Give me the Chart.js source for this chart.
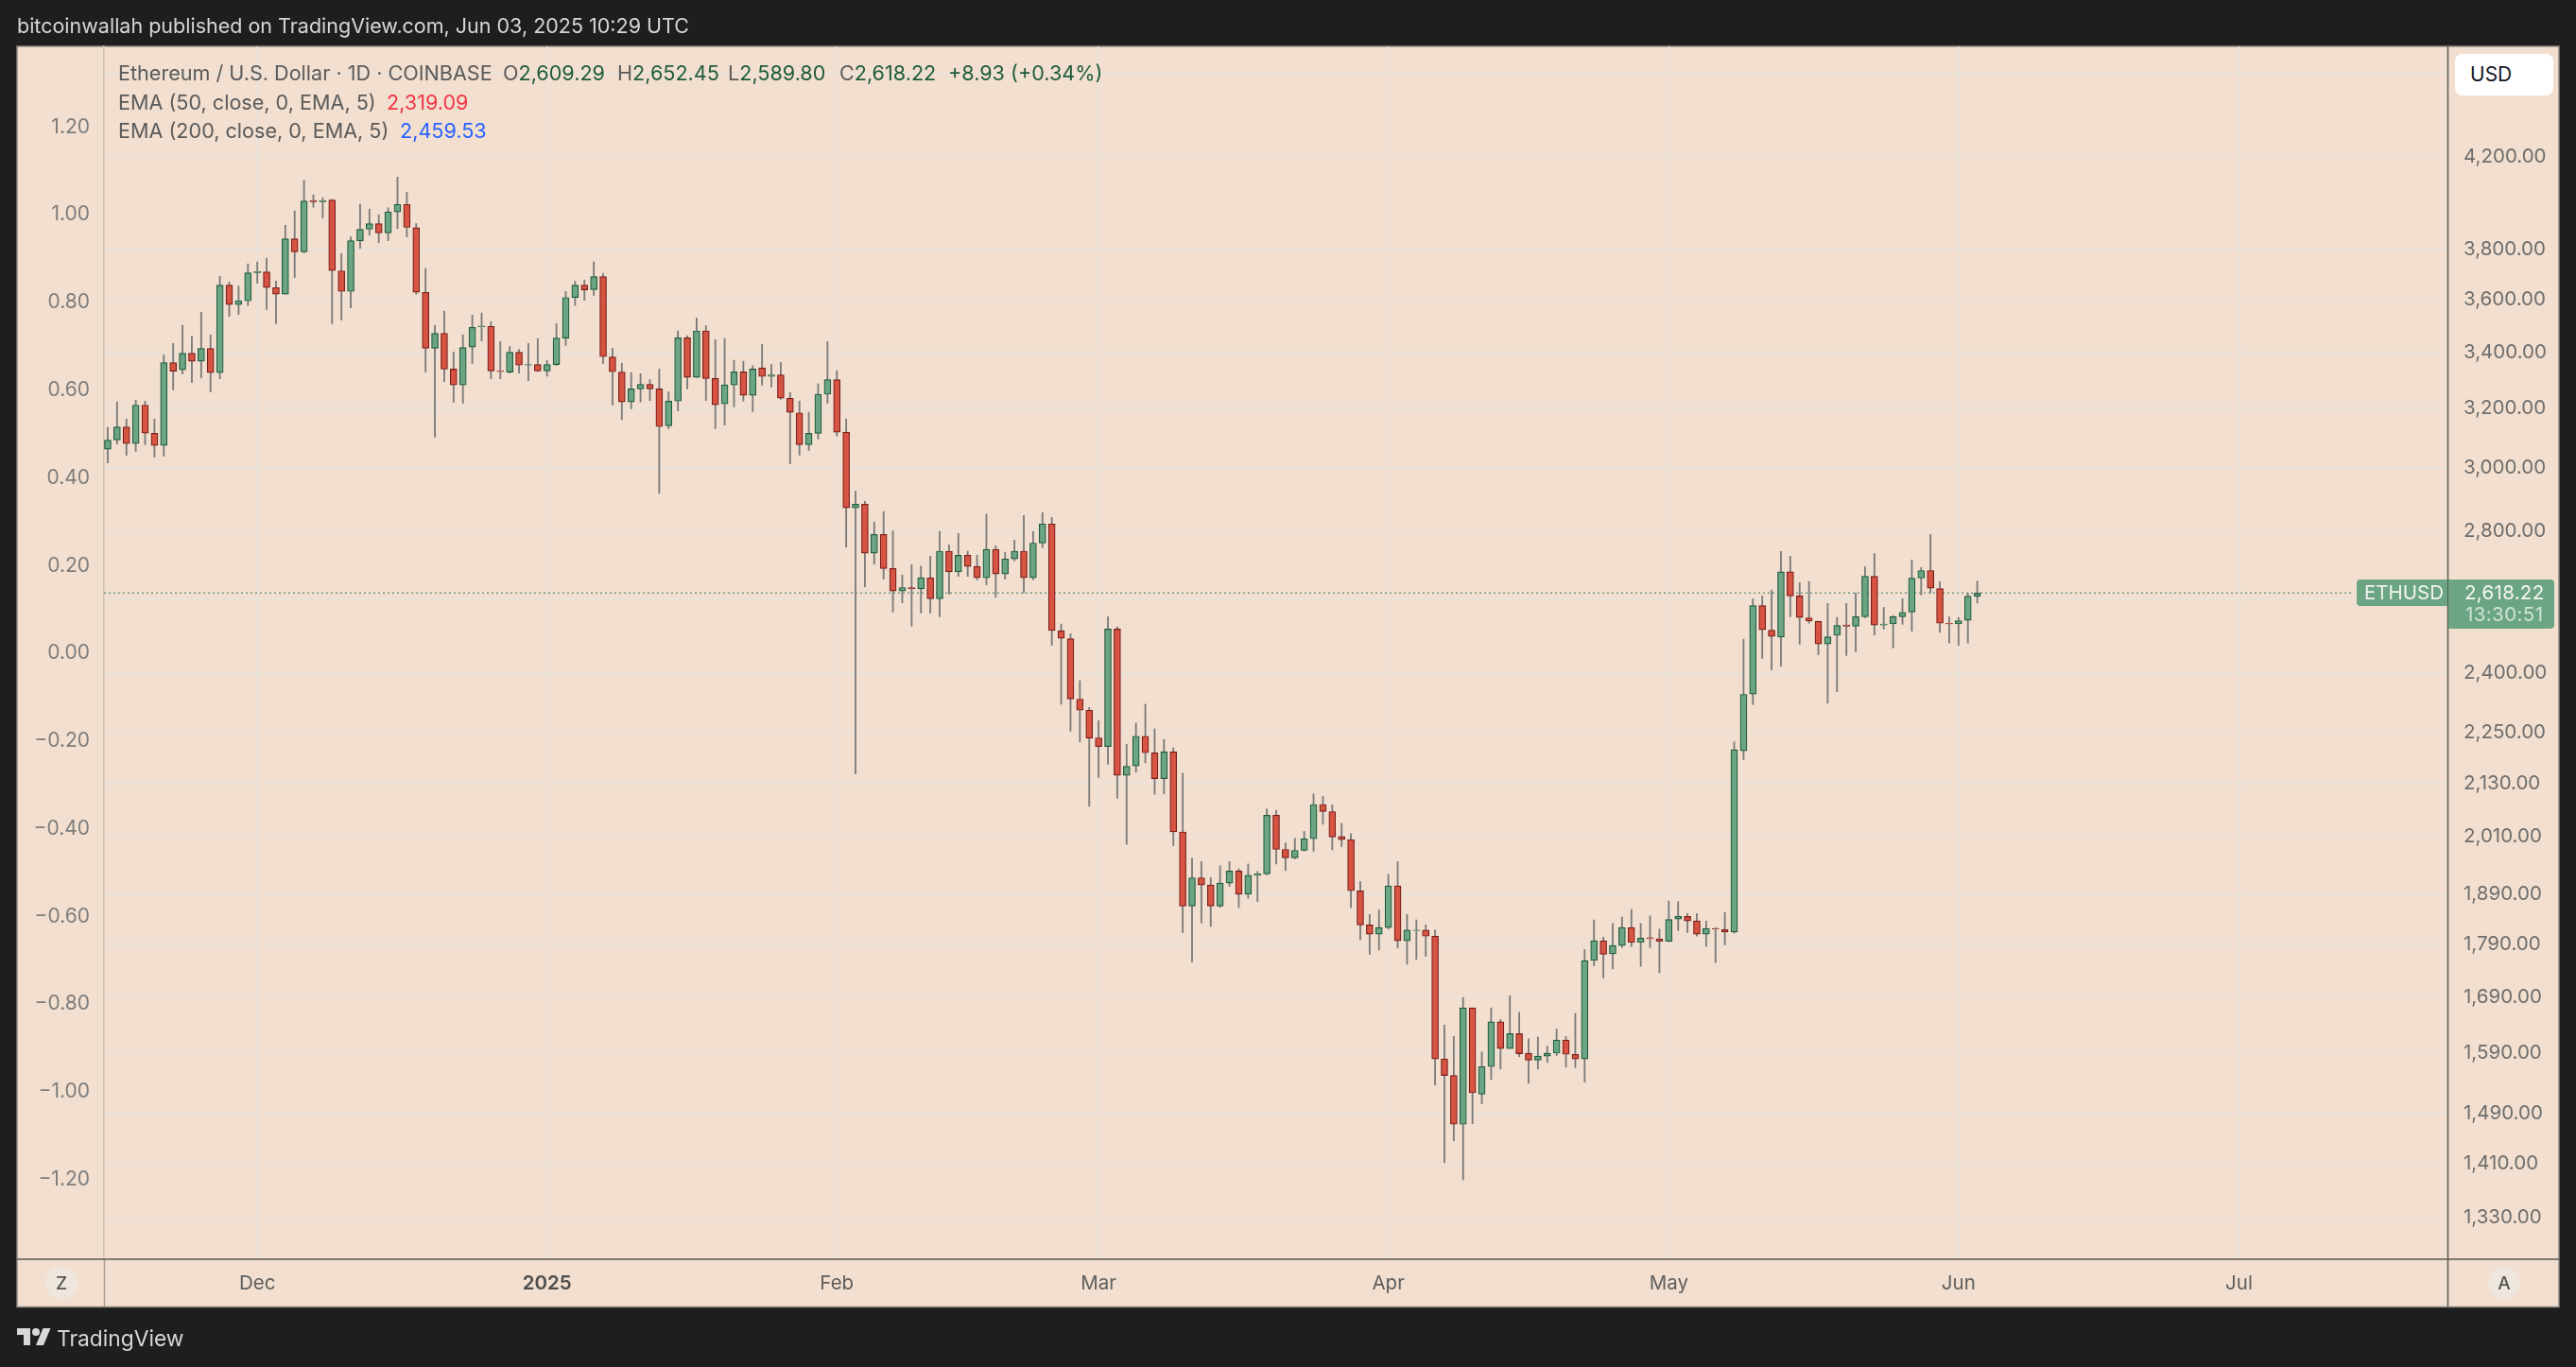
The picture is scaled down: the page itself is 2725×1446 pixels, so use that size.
<!DOCTYPE html>
<html>
<head>
<meta charset="utf-8">
<style>
html,body{margin:0;padding:0;background:#1e1e1e;width:2725px;height:1446px;overflow:hidden;font-family:Inter,sans-serif}
canvas{position:absolute;left:0;top:0}
.t{position:absolute;white-space:nowrap;transform:translateY(-50%);line-height:1;font-size:21.6px}
.lg{color:#5a5a5a}.gv{color:#1f5c3a}
.c{position:absolute;border-radius:50%;background:#efe6de;color:#555;font-size:19px;font-weight:500;display:flex;align-items:center;justify-content:center;width:34px;height:34px}
</style>
</head>
<body>
<canvas id="c" width="2725" height="1446"></canvas>
<div class="t" style="left:18px;top:28px;color:#d6d6d6;font-size:21.5px">bitcoinwallah published on TradingView.com, Jun 03, 2025 10:29 UTC</div>
<div class="t lg" style="left:125px;top:78px">Ethereum / U.S. Dollar · 1D · COINBASE</div>
<div class="t lg" style="left:532px;top:78px">O<span class="gv">2,609.29</span></div>
<div class="t lg" style="left:653px;top:78px">H<span class="gv">2,652.45</span></div>
<div class="t lg" style="left:770px;top:78px">L<span class="gv">2,589.80</span></div>
<div class="t lg" style="left:888px;top:78px">C<span class="gv">2,618.22</span></div>
<div class="t gv" style="left:1003px;top:78px">+8.93 (+0.34%)</div>
<div class="t lg" style="left:125px;top:109px">EMA (50, close, 0, EMA, 5)</div>
<div class="t" style="left:409px;top:109px;color:#f23645">2,319.09</div>
<div class="t lg" style="left:125px;top:139px">EMA (200, close, 0, EMA, 5)</div>
<div class="t" style="left:423px;top:139px;color:#2962ff">2,459.53</div>
<div style="position:absolute;left:2597px;top:57px;width:104px;height:44px;background:#fff;border-radius:8px"></div>
<div class="t" style="left:2613px;top:78px;color:#131722;font-size:21px">USD</div>
<div style="position:absolute;left:2493px;top:613px;width:96px;height:28px;background:#6ba583;border-radius:4px 0 0 4px"></div>
<div style="position:absolute;left:2590px;top:613px;width:112px;height:52px;background:#6ba583;border-radius:0 4px 4px 0"></div>
<div class="t" style="left:2501px;top:627px;color:#f4f4f0;font-size:20.5px">ETHUSD</div>
<div class="t" style="left:2607px;top:627px;color:#f6f6f2;font-size:20.5px;letter-spacing:.3px">2,618.22</div>
<div class="t" style="left:2608px;top:650px;color:#cfe3d6;font-size:20.5px;letter-spacing:.4px">13:30:51</div>
<div class="c" style="left:48px;top:1340px">Z</div>
<div class="c" style="left:2632px;top:1340px">A</div>
<svg style="position:absolute;left:18px;top:1401px" width="36" height="28" viewBox="0 0 36 28"><path fill="#d9d9d9" d="M14 22H7V11H0V4h14v18zM28 22h-8l7.5-18h8L28 22z"/><circle fill="#d9d9d9" cx="20" cy="8" r="4"/></svg>
<div class="t" style="left:60px;top:1416px;color:#d6d6d6;font-size:22.8px">TradingView</div>
<script src="https://cdn.jsdelivr.net/npm/chart.js@4"></script>
<script>
const startDate = "2024-11-15";
const opens = [3060,3091,3135,3079,3210,3113,3073,3361,3335,3396,3366,3413,3325,3656,3580,3594,3706,3709,3646,3620,3844,3790,4007,4002,4009,3713,3631,3836,3884,3908,3869,3958,3990,3891,3627,3414,3470,3338,3281,3418,3494,3496,3331,3327,3399,3352,3354,3331,3354,3452,3607,3656,3638,3690,3382,3327,3221,3267,3283,3267,3139,3224,3453,3308,3479,3304,3214,3281,3328,3244,3342,3311,3317,3234,3183,3075,3113,3248,3300,3117,2872,2883,2734,2790,2689,2624,2634,2630,2662,2602,2740,2679,2728,2695,2662,2745,2673,2717,2740,2662,2764,2822,2513,2492,2334,2306,2238,2217,2518,2149,2171,2242,2202,2141,2204,2021,1865,1923,1908,1865,1912,1937,1889,1928,1931,2058,1983,1965,1981,2006,2082,2066,2011,2004,1896,1827,1809,1822,1906,1796,1816,1817,1805,1580,1552,1472,1670,1521,1567,1645,1598,1624,1590,1578,1585,1590,1613,1588,1580,1758,1796,1771,1787,1822,1793,1802,1800,1795,1839,1844,1835,1809,1820,1818,1813,2207,2347,2583,2515,2496,2679,2610,2549,2539,2478,2501,2529,2526,2552,2666,2529,2532,2552,2565,2661,2683,2631,2534,2532,2542,2609.29];
const highs = [3133,3221,3162,3227,3224,3162,3390,3432,3500,3458,3550,3464,3691,3668,3652,3741,3749,3764,3672,3901,3962,4096,4032,4019,4012,3783,3852,3991,3970,3946,3976,4110,4043,3908,3722,3500,3554,3400,3464,3539,3547,3514,3439,3421,3410,3432,3450,3369,3507,3631,3672,3676,3749,3703,3414,3359,3325,3321,3300,3338,3257,3479,3461,3528,3499,3446,3450,3370,3366,3350,3428,3354,3362,3254,3224,3185,3285,3439,3332,3162,2924,2892,2828,2860,2801,2670,2700,2696,2725,2799,2759,2793,2740,2728,2852,2756,2737,2773,2848,2799,2857,2842,2532,2505,2381,2313,2280,2552,2524,2222,2274,2321,2260,2234,2214,2154,1964,1957,1923,1948,1957,1942,1952,1936,2072,2069,1997,2007,2022,2106,2100,2081,2040,2017,1915,1848,1857,1930,1957,1848,1837,1827,1817,1639,1619,1689,1670,1592,1670,1649,1692,1662,1615,1618,1602,1632,1619,1660,1779,1837,1803,1830,1843,1858,1830,1845,1819,1875,1874,1850,1850,1835,1822,1852,2228,2490,2602,2610,2627,2739,2725,2648,2651,2540,2589,2550,2589,2618,2694,2733,2578,2555,2602,2714,2692,2790,2651,2552,2550,2618,2652.45];
const lows = [3015,3077,3040,3053,3075,3034,3037,3263,3320,3289,3306,3256,3303,3534,3541,3576,3663,3560,3506,3620,3686,3786,3978,3932,3506,3520,3567,3805,3859,3828,3836,3887,3852,3620,3327,3100,3293,3220,3216,3358,3441,3303,3303,3323,3323,3296,3329,3312,3351,3424,3576,3596,3615,3358,3210,3160,3197,3221,3226,2917,3129,3190,3267,3308,3226,3129,3141,3204,3224,3187,3280,3273,3230,3012,3040,3056,3094,3216,3104,2752,2152,2636,2702,2658,2565,2591,2526,2562,2562,2552,2615,2666,2666,2656,2642,2607,2658,2711,2619,2656,2750,2474,2321,2254,2228,2078,2144,2175,2096,1994,2156,2178,2105,2106,1991,1812,1755,1831,1824,1862,1905,1862,1881,1874,1929,1952,1938,1963,1979,1979,2038,1982,1989,1862,1798,1770,1778,1819,1782,1751,1760,1766,1536,1412,1446,1386,1473,1505,1545,1563,1598,1584,1539,1563,1574,1586,1566,1565,1541,1748,1725,1742,1783,1785,1747,1783,1735,1794,1816,1812,1805,1785,1754,1788,1811,2186,2320,2439,2409,2419,2552,2477,2534,2449,2324,2353,2447,2457,2549,2502,2518,2467,2531,2512,2613,2619,2509,2480,2474,2480,2589.80];
const closes = [3090,3135,3079,3210,3114,3073,3361,3330,3396,3366,3413,3325,3656,3580,3594,3705,3710,3646,3620,3844,3790,4005,4002,4007,3714,3631,3836,3884,3908,3869,3958,3990,3892,3628,3414,3470,3338,3281,3417,3492,3497,3331,3329,3399,3352,3354,3331,3354,3452,3607,3656,3637,3690,3383,3328,3221,3267,3283,3267,3136,3224,3453,3308,3479,3304,3211,3281,3328,3244,3338,3311,3317,3234,3185,3075,3113,3248,3300,3117,2872,2883,2734,2790,2689,2624,2634,2630,2662,2602,2740,2679,2728,2695,2662,2745,2673,2717,2740,2662,2764,2822,2514,2493,2334,2306,2237,2217,2518,2149,2170,2242,2202,2141,2204,2021,1865,1923,1908,1865,1912,1937,1889,1928,1931,2058,1983,1965,1981,2006,2082,2066,2010,2004,1896,1827,1809,1822,1906,1796,1817,1817,1805,1580,1552,1472,1670,1523,1567,1645,1598,1624,1589,1578,1585,1590,1613,1588,1580,1758,1796,1770,1787,1822,1793,1801,1800,1795,1838,1844,1835,1809,1820,1819,1813,2209,2346,2583,2516,2498,2679,2610,2550,2540,2478,2497,2528,2526,2552,2666,2529,2532,2552,2564,2661,2683,2632,2534,2532,2541,2609.29,2618.22];
const lastClose = 2618.22;
const priceTicks = [4600,4200,3800,3600,3400,3200,3000,2800,2600,2400,2250,2130,2010,1890,1790,1690,1590,1490,1410,1330];
const hiddenPriceLabels = [4600,2600];
const leftTicks = [1.2,1.0,0.8,0.6,0.4,0.2,0,-0.2,-0.4,-0.6,-0.8,-1.0,-1.2];
const monthDays = [16,47,78,106,137,167,198,228];
const monthLabels = ["Dec","2025","Feb","Mar","Apr","May","Jun","Jul"];

const upFill="#6ba583",upEdge="#1f5c3d",downFill="#d75442",downEdge="#7a1e1a",wick="#7c7c7c",bg="#f2dfcf",gridC="#e8e3de";
const days = closes.map((_,i)=>i);
const isUp = i => closes[i]>=opens[i];

const frame = {id:"frame",beforeDraw(ch){
  const c=ch.ctx;c.save();
  c.fillStyle=bg;c.fillRect(18,49,2689,1333.5);
  c.strokeStyle="#8a8580";c.lineWidth=1.5;c.strokeRect(18,49,2689,1333.5);
  c.restore();
},afterDraw(ch){
  const c=ch.ctx;c.save();c.lineWidth=1.5;
  c.strokeStyle="#a89e94";c.beginPath();c.moveTo(110.5,1332);c.lineTo(110.5,1382);c.stroke();
  c.strokeStyle="#5a5856";c.beginPath();c.moveTo(18,1332);c.lineTo(2707,1332);c.moveTo(2589.5,49);c.lineTo(2589.5,1382);c.stroke();
  c.restore();
}};

new Chart(document.getElementById("c"),{
  type:"bar",
  plugins:[frame],
  data:{datasets:[
    {type:"line",order:3,xAxisID:"x",yAxisID:"y",data:[{x:-0.4,y:lastClose},{x:240.2,y:lastClose}],borderColor:"#6f9c80",borderWidth:1.5,borderDash:[2,3],pointRadius:0},
    {order:2,grouped:false,xAxisID:"x",yAxisID:"y",barThickness:1.2,borderWidth:0,backgroundColor:wick,
     data:days.map(i=>({x:i,y:[lows[i],highs[i]]}))},
    {order:1,grouped:false,xAxisID:"x",yAxisID:"y",barThickness:7,borderWidth:1.2,borderSkipped:false,
     backgroundColor:days.map(i=>isUp(i)?upFill:downFill),borderColor:days.map(i=>isUp(i)?upEdge:downEdge),
     data:days.map(i=>({x:i,y:[opens[i],closes[i]]}))}
  ]},
  options:{
    responsive:false,animation:false,devicePixelRatio:1,events:[],
    layout:{padding:{left:18,right:19,top:49,bottom:64}},
    plugins:{legend:{display:false},tooltip:{enabled:false}},
    scales:{
      x:{type:"linear",position:"bottom",offset:false,min:-0.4,max:250.3,
        afterBuildTicks:s=>{s.ticks=monthDays.map(v=>({value:v}));},
        afterFit:s=>{s.height=50;},
        grid:{offset:false,color:gridC,lineWidth:1.5,drawTicks:false},border:{display:false},
        ticks:{autoSkip:false,maxRotation:0,padding:14,color:ctx=>ctx.tick&&ctx.tick.value===47?"#4d4d4d":"#5e5e5e",
          font:ctx=>({family:"Inter",size:20.5,weight:ctx.tick&&ctx.tick.value===47?"600":"400"}),
          callback:v=>monthLabels[monthDays.indexOf(v)]}},
      y:{type:"logarithmic",position:"right",min:1271.7,max:4736,
        afterBuildTicks:s=>{s.ticks=priceTicks.map(v=>({value:v}));},
        afterFit:s=>{s.width=117;},
        grid:{color:gridC,lineWidth:1.5,drawTicks:false},border:{display:false},
        ticks:{autoSkip:false,padding:17,color:"#6e6e6e",font:{family:"Inter",size:20.5},
          callback:v=>hiddenPriceLabels.includes(v)?"":v.toLocaleString("en-US",{minimumFractionDigits:2,maximumFractionDigits:2})}},
      yL:{type:"linear",position:"left",min:-1.382,max:1.384,
        afterBuildTicks:s=>{s.ticks=leftTicks.map(v=>({value:v}));},
        afterFit:s=>{s.width=92;},
        grid:{display:false,drawTicks:false},border:{display:true,color:"#cfc3b6",width:1.5},
        ticks:{autoSkip:false,padding:15,color:"#7d7d7d",font:{family:"Inter",size:21},
          callback:v=>(v<0?"\u2212":"")+Math.abs(v).toFixed(2)}}
    }
  }
});
</script>
</body>
</html>
